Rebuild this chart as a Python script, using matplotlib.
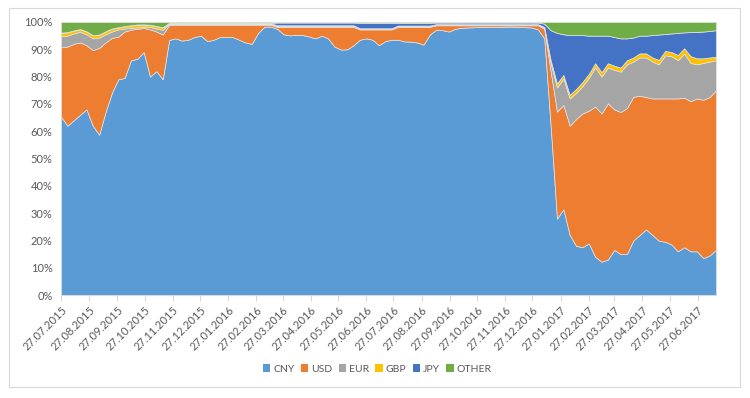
import numpy as np
import pandas as pd
import matplotlib
matplotlib.use("Agg")
import matplotlib.pyplot as plt
import matplotlib.dates as mdates
from matplotlib.ticker import MultipleLocator, PercentFormatter
from matplotlib.patches import Rectangle, Patch

plt.rcParams["font.family"] = ["Lato", "DejaVu Sans"]

# weekly observations, 27.07.2015 .. 17.07.2017
dates = pd.date_range("2015-07-27", periods=104, freq="7D")

cny = [
    65.4, 62.0, 64.0, 66.0, 68.0, 62.0, 58.7, 67.0, 74.0, 79.0, 79.5, 86.0, 86.5, 89.0, 80.0, 82.0, 79.0,
    93.5, 94.0, 93.2, 93.5, 94.5, 95.0, 93.0, 93.5, 94.5, 94.5, 94.5, 93.5, 92.5, 92.0, 96.0, 98.3, 98.3,
    97.5, 95.5, 95.1, 95.3, 95.2, 94.7, 94.0, 95.0, 94.0, 91.0, 89.9, 90.0, 91.5,
    93.5, 94.0, 93.5, 91.5, 93.0, 93.5,
    93.5, 92.9, 92.8, 92.5, 91.7, 95.4,
    97.2, 97.0, 96.5, 97.5, 97.9, 98.0, 98.1, 98.2, 98.2, 98.1, 98.2, 98.3, 98.3, 98.2, 98.1, 98.0, 97.3,
    94.0, 62.0,
    28.0, 31.4, 22.0, 18.0, 17.5, 18.9, 14.0, 12.2, 13.0, 16.5, 15.0, 15.0, 20.0, 22.0, 24.0, 22.0,
    19.9, 19.5, 18.5, 16.0, 17.5, 16.0, 16.0, 13.5, 14.5, 16.5,
]
usd = [
    25.3, 29.0, 28.0, 26.5, 23.5, 27.7, 31.8, 25.5, 20.2, 15.6, 17.0, 11.2, 11.0, 8.8, 17.3, 14.5, 16.4,
    5.5, 5.0, 5.8, 5.5, 4.5, 4.0, 6.0, 5.5, 4.5, 4.5, 4.5, 5.5, 6.5, 7.0, 3.0, 0.7, 0.7,
    0.7, 2.7, 3.1, 2.9, 3.0, 3.5, 4.2, 3.2, 4.2, 7.2, 8.3, 8.2, 6.7,
    3.8, 3.3, 3.8, 5.8, 4.3, 3.8,
    4.7, 5.3, 5.4, 5.7, 6.5, 2.8,
    1.6, 1.8, 2.3, 1.3, 0.9, 0.8, 0.7, 0.6, 0.6, 0.7, 0.6, 0.5, 0.5, 0.6, 0.7, 0.8, 1.5,
    3.5, 20.0,
    39.2, 38.2, 40.0, 46.5, 49.0, 48.6, 55.0, 54.3, 57.2, 51.5, 52.0, 53.5, 52.6, 51.0, 48.5, 50.0,
    52.1, 52.5, 53.5, 56.0, 54.8, 55.0, 56.0, 58.0, 58.0, 58.5,
]
eur = [
    4.1, 4.0, 3.8, 3.9, 4.0, 4.3, 3.8, 3.0, 2.3, 2.7, 1.1, 0.7, 0.5, 0.4, 0.9, 1.0, 1.8,
    0.4, 0.3, 0.3, 0.3, 0.3, 0.3, 0.3, 0.3, 0.3, 0.3, 0.3, 0.3, 0.3, 0.3, 0.3, 0.3, 0.3,
    0.4, 0.4, 0.4, 0.4, 0.4, 0.4, 0.4, 0.4, 0.4, 0.4, 0.4, 0.4, 0.4,
    0.3, 0.3, 0.3, 0.3, 0.3, 0.3,
    0.4, 0.4, 0.4, 0.4, 0.4, 0.4,
    0.3, 0.3, 0.3, 0.3, 0.3, 0.3, 0.3, 0.3, 0.3, 0.3, 0.3, 0.3, 0.3, 0.3, 0.3, 0.3, 0.3,
    0.5, 3.0,
    8.8, 9.7, 10.0, 9.5, 10.0, 12.0, 14.4, 13.5, 13.1, 14.5, 14.8, 16.0, 12.9, 14.0, 14.5, 13.5,
    12.5, 15.8, 15.5, 14.0, 16.1, 14.0, 12.5, 13.5, 13.0, 11.0,
]
gbp = [
    1.2, 1.2, 1.0, 0.9, 1.0, 1.1, 1.0, 1.0, 1.0, 0.7, 0.8, 0.8, 1.0, 0.8, 0.7, 0.9, 0.8,
    0.2, 0.2, 0.2, 0.2, 0.2, 0.2, 0.2, 0.2, 0.2, 0.2, 0.2, 0.2, 0.2, 0.2, 0.2, 0.2, 0.2,
    0.2, 0.2, 0.2, 0.2, 0.2, 0.2, 0.2, 0.2, 0.2, 0.2, 0.2, 0.2, 0.2,
    0.1, 0.1, 0.1, 0.1, 0.1, 0.1,
    0.1, 0.1, 0.1, 0.1, 0.1, 0.1,
    0.1, 0.1, 0.1, 0.1, 0.1, 0.1, 0.1, 0.1, 0.1, 0.1, 0.1, 0.1, 0.1, 0.1, 0.1, 0.1, 0.1,
    0.2, 1.0,
    1.5, 1.3, 1.3, 1.5, 1.5, 1.5, 1.5, 1.6, 1.6, 1.5, 1.5, 1.5, 1.5, 1.5, 1.5, 1.5,
    1.6, 1.6, 1.5, 1.9, 2.0, 2.5, 2.2, 1.7, 1.5, 1.3,
]
jpy = [
    0.1, 0.1, 0.1, 0.1, 0.1, 0.1, 0.1, 0.1, 0.1, 0.1, 0.1, 0.1, 0.1, 0.1, 0.1, 0.1, 0.1,
    0.2, 0.2, 0.2, 0.2, 0.2, 0.2, 0.2, 0.2, 0.2, 0.2, 0.2, 0.2, 0.2, 0.2, 0.2, 0.2, 0.2,
    1.0, 1.0, 1.0, 1.0, 1.0, 1.0, 1.0, 1.0, 1.0, 1.0, 1.0, 1.0, 1.0,
    2.0, 2.0, 2.0, 2.0, 2.0, 2.0,
    1.0, 1.0, 1.0, 1.0, 1.0, 1.0,
    0.6, 0.6, 0.6, 0.6, 0.6, 0.6, 0.6, 0.6, 0.6, 0.6, 0.6, 0.6, 0.6, 0.6, 0.6, 0.6, 0.6,
    1.2, 11.0,
    18.5, 14.9, 21.9, 19.7, 17.2, 14.0, 10.1, 13.4, 10.1, 10.5, 10.7, 8.0, 7.3, 6.5, 6.5, 8.2,
    9.3, 6.2, 6.8, 8.1, 5.8, 8.8, 9.7, 9.8, 9.7, 9.7,
]
other = [
    3.9, 3.7, 3.1, 2.6, 3.4, 4.8, 4.6, 3.4, 2.4, 1.9, 1.5, 1.2, 0.9, 0.9, 1.0, 1.5, 1.9,
    0.3, 0.3, 0.3, 0.3, 0.3, 0.3, 0.3, 0.3, 0.3, 0.3, 0.3, 0.3, 0.3, 0.3, 0.3, 0.3, 0.3,
    0.2, 0.2, 0.2, 0.2, 0.2, 0.2, 0.2, 0.2, 0.2, 0.2, 0.2, 0.2, 0.2,
    0.3, 0.3, 0.3, 0.3, 0.3, 0.3,
    0.3, 0.3, 0.3, 0.3, 0.3, 0.3,
    0.2, 0.2, 0.2, 0.2, 0.2, 0.2, 0.2, 0.2, 0.2, 0.2, 0.2, 0.2, 0.2, 0.2, 0.2, 0.2, 0.2,
    0.6, 3.0,
    4.0, 4.5, 4.8, 4.8, 4.8, 5.0, 5.0, 5.0, 5.0, 5.5, 6.0, 6.0, 5.7, 5.0, 5.0, 4.8,
    4.6, 4.4, 4.2, 4.0, 3.8, 3.7, 3.6, 3.5, 3.3, 3.0,
]

labels = ["CNY", "USD", "EUR", "GBP", "JPY", "OTHER"]
colors = ["#5B9BD5", "#ED7D31", "#A5A5A5", "#FFC000", "#4472C4", "#70AD47"]

data = np.array([cny, usd, eur, gbp, jpy, other], dtype=float)
shares = data / data.sum(axis=0) * 100  # 100% stacked

grey = "#595959"

fig = plt.figure(figsize=(7.5, 3.98), dpi=100)
ax = fig.add_axes([61 / 750, 1 - 295 / 398, (716 - 61) / 750, (295 - 22) / 398])

ax.stackplot(dates, shares, colors=colors, edgecolor="#e4e4e4", linewidth=0.5)

ax.set_xlim(dates[0], dates[-1])
ax.set_ylim(0, 100)
ax.yaxis.set_major_locator(MultipleLocator(10))
ax.yaxis.set_major_formatter(PercentFormatter(decimals=0))

ax.xaxis.set_major_locator(mdates.MonthLocator(bymonthday=27))
ax.xaxis.set_major_formatter(mdates.DateFormatter("%d.%m.%Y"))
for lab in ax.get_xticklabels():
    lab.set_rotation(45)
    lab.set_ha("right")
    lab.set_rotation_mode("anchor")

ax.tick_params(axis="y", length=0, labelsize=8, labelcolor=grey, pad=6)
ax.tick_params(axis="x", length=4, color="#d9d9d9", labelsize=8, labelcolor=grey, pad=3)
for s in ["top", "right", "left"]:
    ax.spines[s].set_visible(False)
ax.spines["bottom"].set_color("#d9d9d9")

handles = [Patch(facecolor=c, edgecolor="none") for c in colors]
fig.legend(handles, labels, loc="center", bbox_to_anchor=(0.503, 1 - 369 / 398), ncol=6,
           frameon=False, fontsize=7.5, labelcolor=grey, handlelength=0.7, handleheight=0.7,
           handletextpad=0.3, columnspacing=0.6)

fig.patches.append(Rectangle((9 / 750, 1 - 387 / 398), (740 - 9) / 750, (387 - 8) / 398,
                             transform=fig.transFigure, fill=False, edgecolor="#d9d9d9", linewidth=0.8))

fig.savefig("out.png", dpi=100)
plt.close(fig)
